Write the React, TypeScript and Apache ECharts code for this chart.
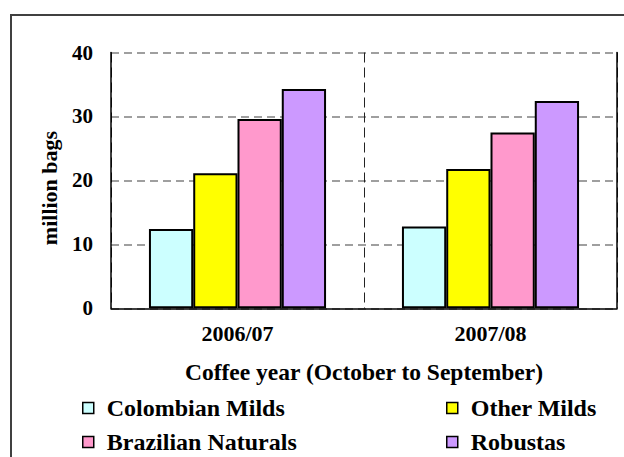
import React, { useEffect, useRef } from "react";
import * as echarts from "echarts";

const categories = ["2006/07", "2007/08"];
const seriesNames = ["Colombian Milds", "Other Milds", "Brazilian Naturals", "Robustas"];
const colombianMilds = [12.4, 12.8];
const otherMilds = [21.1, 21.8];
const brazilianNaturals = [29.6, 27.5];
const robustas = [34.3, 32.4];
const yTicks = [0, 10, 20, 30, 40];
const colors = ["#CCFFFF", "#FFFF00", "#FF99CC", "#CC99FF"];

const FONT = '"Liberation Serif", "Times New Roman", serif';

export default function App() {
  const ref = useRef<HTMLDivElement>(null);
  useEffect(() => {
    if (!ref.current) return;
    const chart = echarts.init(ref.current, null, { renderer: "svg" });
    const values = [colombianMilds, otherMilds, brazilianNaturals, robustas];
    const legendText = {
      fontFamily: FONT,
      fontWeight: "bold" as const,
      fontSize: 24,
      lineHeight: 24,
      color: "#000",
      padding: [0, 0, 0, 8],
    };
    chart.setOption({
      animation: false,
      backgroundColor: "#fff",
      graphic: [
        {
          type: "rect",
          shape: { x: 11, y: 15, width: 700, height: 500 },
          style: { fill: "none", stroke: "#404040", lineWidth: 2 },
          silent: true,
        },
        {
          type: "text",
          x: 49,
          y: 188,
          rotation: Math.PI / 2,
          style: {
            text: "million bags",
            fontFamily: FONT,
            fontWeight: "bold",
            fontSize: 22,
            fill: "#000",
            align: "center",
            verticalAlign: "middle",
          },
        },
      ],
      grid: { left: 111, right: 7, top: 52.5, bottom: 148.7, containLabel: false },
      legend: [
        {
          data: [seriesNames[0], seriesNames[2]],
          orient: "vertical",
          left: 82,
          top: 396,
          itemWidth: 11,
          itemHeight: 11,
          itemGap: 10,
          padding: 0,
          icon: "rect",
          itemStyle: { borderColor: "#000", borderWidth: 1.5 },
          textStyle: legendText,
        },
        {
          data: [seriesNames[1], seriesNames[3]],
          orient: "vertical",
          left: 446,
          top: 396,
          itemWidth: 11,
          itemHeight: 11,
          itemGap: 10,
          padding: 0,
          icon: "rect",
          itemStyle: { borderColor: "#000", borderWidth: 1.5 },
          textStyle: legendText,
        },
      ],
      xAxis: {
        type: "category",
        data: categories,
        boundaryGap: true,
        axisLine: { show: true, lineStyle: { color: "#000", width: 1.5 } },
        axisTick: { show: false },
        axisLabel: {
          fontFamily: FONT,
          fontWeight: "bold",
          fontSize: 22,
          color: "#000",
          margin: 14,
        },
        splitLine: {
          show: true,
          lineStyle: { color: "#222", width: 1, type: [10, 5] },
        },
        name: "Coffee year (October to September)",
        nameLocation: "middle",
        nameGap: 52,
        nameTextStyle: {
          fontFamily: FONT,
          fontWeight: "bold",
          fontSize: 23.5,
          color: "#000",
        },
      },
      yAxis: [
        {
          type: "value",
          min: yTicks[0],
          max: yTicks[yTicks.length - 1],
          interval: 10,
          axisLine: { show: true, lineStyle: { color: "#000", width: 1.5 } },
          axisTick: { show: false },
          axisLabel: {
            fontFamily: FONT,
            fontWeight: "bold",
            fontSize: 21,
            color: "#000",
            margin: 18,
          },
          splitLine: {
            show: true,
            lineStyle: { color: "#808080", width: 1.5, type: [8, 5] },
          },
        },
        {
          type: "value",
          position: "right",
          min: yTicks[0],
          max: yTicks[yTicks.length - 1],
          interval: 10,
          axisLine: { show: true, lineStyle: { color: "#000", width: 1.5 } },
          axisTick: { show: false },
          axisLabel: { show: false },
          splitLine: { show: false },
        },
      ],
      series: seriesNames.map((name, i) => ({
        name,
        type: "bar",
        yAxisIndex: 0,
        data: values[i],
        barGap: "0%",
        barCategoryGap: "30%",
        itemStyle: { color: colors[i], borderColor: "#000", borderWidth: 2 },
      })),
    });
    return () => chart.dispose();
  }, []);
  return (
    <div
      ref={ref}
      style={{ position: "fixed", left: 0, top: 0, width: 624, height: 457 }}
    />
  );
}
